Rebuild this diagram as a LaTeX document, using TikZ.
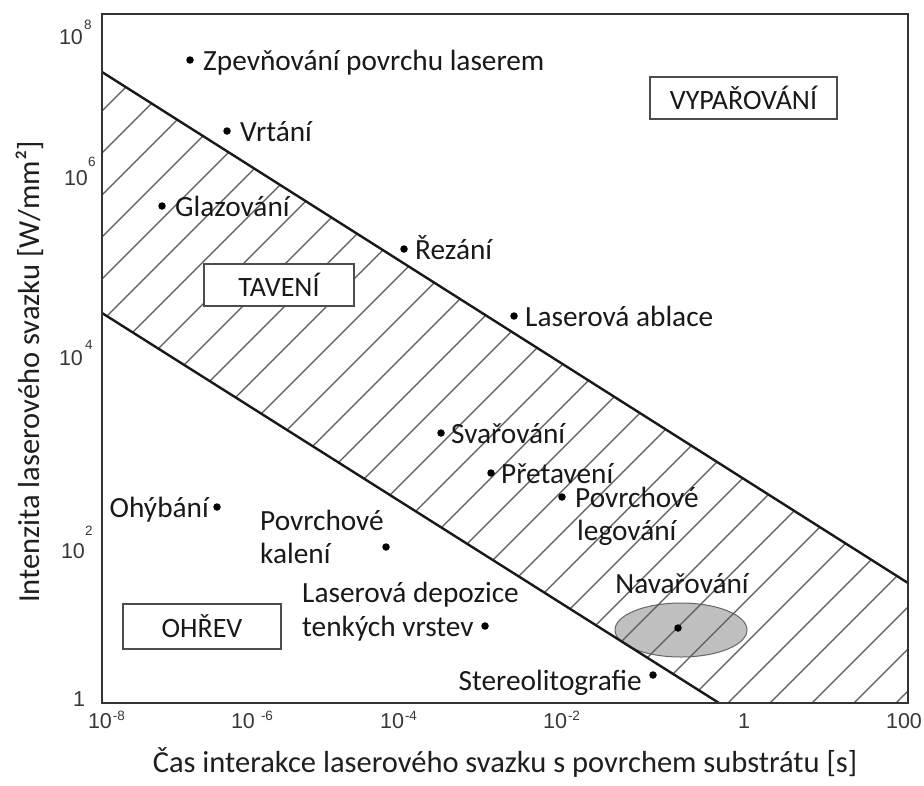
\documentclass[tikz,border=0pt]{standalone}
\usepackage{fontspec}
\setmainfont{Carlito}
\newfontfamily\axisfont{Liberation Sans}
\usetikzlibrary{shapes.geometric}
\begin{document}
\begin{tikzpicture}[x=1pt,y=-1pt,
  lbl/.style={font=\fontsize{29.3}{34}\selectfont, inner sep=0pt, text=black!90},
  dotm/.style={circle, fill=black, inner sep=0pt, minimum size=7.5pt},
  regbox/.style={draw=black!70, line width=1.6pt, fill=white, font=\fontsize{28}{32}\selectfont, text=black!90, inner sep=0pt},
  tickl/.style={font=\axisfont\fontsize{21.5}{24}\selectfont, text=black!78, inner sep=0pt},
  texp/.style={font=\axisfont\fontsize{13.5}{15}\selectfont, text=black!78, inner sep=0pt},
  bound/.style={line width=2.4pt, black!90},
  hatchl/.style={line width=1.1pt, black!65},
  titl/.style={font=\fontsize{30.5}{35}\selectfont, text=black!88, inner sep=0pt}]

\useasboundingbox (0,0) rectangle (924,785);
\fill[white] (0,0) rectangle (924,785);

% corners of the melting band
\coordinate (u1) at (102,72);
\coordinate (u2) at (908,583);
\coordinate (l1) at (102,313);
\coordinate (l2) at (719,703);
\coordinate (br) at (908,703);

% welding ellipse
\node[ellipse, draw=black!60, line width=1pt, fill=black!25, minimum width=132pt, minimum height=54pt] (navell) at (681,630) {};

% hatching
\begin{scope}
  \clip (u1) -- (u2) -- (br) -- (l2) -- (l1) -- cycle;
  \foreach \k in {-8,...,45} {
    \draw[hatchl] ({255+42*\k},0) -- ({255+42*\k-800},800);
  }
\end{scope}

% boundaries
\draw[bound] (u1) -- (u2);
\draw[bound] (l1) -- (l2);

% frame
\draw[line width=2.4pt, black!80] (102,14) rectangle (908,703);

% region boxes
\node[regbox, minimum width=187pt, minimum height=42pt] (vyp) at (743.5,98) {VYPAŘOVÁNÍ};
\node[regbox, minimum width=150pt, minimum height=42pt] (tav) at (279,285) {TAVENÍ};
\node[regbox, minimum width=158pt, minimum height=45pt] (ohr) at (202,626.5) {OHŘEV};

% points and labels
\node[dotm] (d1) at (190,60) {};
\node[lbl, anchor=base west] (t1) at (203,70) {Zpevňování povrchu laserem};
\node[dotm] (d2) at (227,131) {};
\node[lbl, anchor=base west] (t2) at (240,141) {Vrtání};
\node[dotm] (d3) at (162,206) {};
\node[lbl, anchor=base west] (t3) at (175,216) {Glazování};
\node[dotm] (d4) at (404,249) {};
\node[lbl, anchor=base west] (t4) at (415,259) {Řezání};
\node[dotm] (d5) at (514,316) {};
\node[lbl, anchor=base west] (t5) at (525,326) {Laserová ablace};
\node[dotm] (d6) at (441,433) {};
\node[lbl, anchor=base west] (t6) at (451,443) {Svařování};
\node[dotm] (d7) at (491,473) {};
\node[lbl, anchor=base west] (t7) at (501,483) {Přetavení};
\node[dotm] (d8) at (562,497) {};
\node[lbl, anchor=base west] (t8a) at (575,507) {Povrchové};
\node[lbl, anchor=base west] (t8b) at (577,540) {legování};
\node[dotm] (d9) at (217,507) {};
\node[lbl, anchor=base east] (t9) at (209,517) {Ohýbání};
\node[dotm] (d10) at (386,547) {};
\node[lbl, anchor=base west] (t10a) at (260,530) {Povrchové};
\node[lbl, anchor=base west] (t10b) at (260,563) {kalení};
\node[dotm] (d11) at (485,626) {};
\node[lbl, anchor=base west] (t11a) at (302,602) {Laserová depozice};
\node[lbl, anchor=base west] (t11b) at (302,636) {tenkých vrstev};
\node[dotm] (d12) at (653,675) {};
\node[lbl, anchor=base east] (t12) at (642,690) {Stereolitografie};
\node[dotm] (d13) at (678,628) {};
\node[lbl, anchor=base] (t13) at (682,593) {Navařování};

% y ticks
\node[tickl] (y8) at (71,37) {10};   \node[texp] (y8e) at (88,25) {8};
\node[tickl] (y6) at (76,178) {10};  \node[texp] (y6e) at (92,162) {6};
\node[tickl] (y4) at (71,358) {10};  \node[texp] (y4e) at (89,345) {4};
\node[tickl] (y2) at (73,551) {10};  \node[texp] (y2e) at (89,531) {2};
\node[tickl] (y0) at (79,699) {1};

% x ticks
\node[tickl] (x8) at (100,721) {10};  \node[texp] (x8e) at (119,716) {-8};
\node[tickl] (x6) at (243,721) {10};  \node[texp] (x6e) at (267,716) {-6};
\node[tickl] (x4) at (392,721) {10};  \node[texp] (x4e) at (411,716) {-4};
\node[tickl] (x2) at (555,721) {10};  \node[texp] (x2e) at (574,716) {-2};
\node[tickl] (x0) at (744,721) {1};
\node[tickl] (x100) at (904,721) {100};

% axis titles
\node[titl] (xt) at (505,762) {Čas interakce laserového svazku s povrchem substrátu [s]};
\node[titl, rotate=90] (yt) at (30,372) {Intenzita laserového svazku [W/mm²]};
\end{tikzpicture}
\end{document}
